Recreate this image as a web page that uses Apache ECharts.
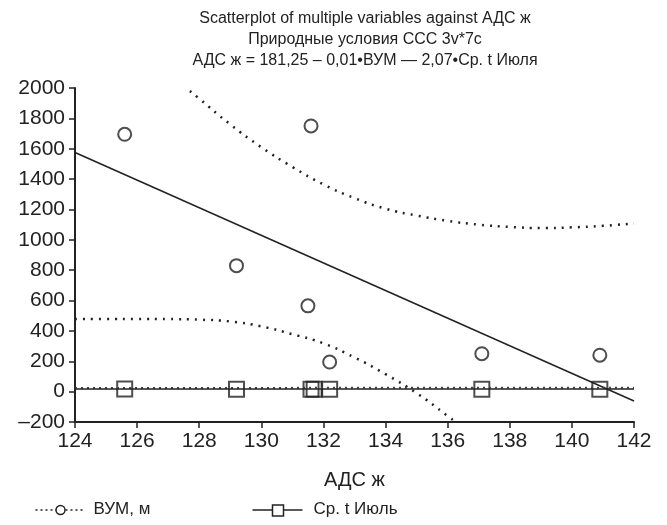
<!DOCTYPE html>
<html>
<head>
<meta charset="utf-8">
<script src="https://cdn.jsdelivr.net/npm/echarts@6/dist/echarts.min.js"></script>
<style>
  html, body { margin: 0; padding: 0; background: #fff; }
  #main { width: 667px; height: 525px; }
</style>
</head>
<body>
<div id="main"></div>
<script>
// АДС ж for each observation
var adsX = [125.6, 129.2, 131.5, 131.6, 132.2, 137.1, 140.9];
// ВУМ, м
var vumY = [1695, 830, 565, 1750, 195, 250, 240];
// Ср. t Июль (x positions of squares, values)
var tempX = [125.6, 129.2, 131.6, 131.7, 132.2, 137.1, 140.9];
var tempY = [17, 16, 16, 16, 15, 15, 16];

// regression line for ВУМ
var fitX = [124, 142];
var fitY = [1575, -62];
// fitted line for temperature (solid) and its band (dotted)
var tempFitY = [17, 17];
var tempBandY = [24, 26];

// confidence band for ВУМ
var upperX = [127.7, 128, 129, 130, 131, 132, 133, 134, 135, 136, 137, 138, 139, 140, 141, 142];
var upperY = [1980, 1930, 1760, 1610, 1480, 1365, 1275, 1205, 1160, 1125, 1100, 1085, 1078, 1082, 1092, 1108];
var lowerX = [124, 125, 126, 127, 128, 129, 130, 131, 132, 133, 134, 135, 136, 136.25];
var lowerY = [478, 479, 479, 478, 474, 462, 430, 378, 318, 225, 115, -10, -160, -200];

var xTicks = [124, 142, 2];
var yTicks = [-200, 2000, 200];

function pairs(xs, ys) {
  return xs.map(function (x, i) { return [x, ys[i]]; });
}

var ink = '#222';
var font = 'Liberation Sans, Arial, sans-serif';

var chart = echarts.init(document.getElementById('main'));
var option = {
  animation: false,
  title: {
    text: 'Scatterplot of multiple variables against АДС ж\nПриродные условия ССС 3v*7c\nАДС ж = 181,25 – 0,01•ВУМ — 2,07•Ср. t Июля',
    left: 360,
    top: 3,
    textAlign: 'center',
    textStyle: {
      fontFamily: font,
      fontSize: 16,
      fontWeight: 'normal',
      color: ink,
      lineHeight: 21
    }
  },
  grid: { left: 75, right: 33, top: 88, bottom: 103 },
  xAxis: {
    type: 'value',
    min: xTicks[0], max: xTicks[1], interval: xTicks[2],
    name: 'АДС ж',
    nameLocation: 'middle',
    nameGap: 48,
    nameTextStyle: { fontFamily: font, fontSize: 20, color: ink },
    axisLine: { onZero: false, lineStyle: { color: ink, width: 2 } },
    axisTick: { length: 6, lineStyle: { color: ink, width: 1.5 } },
    axisLabel: { fontFamily: font, fontSize: 21, color: ink, margin: 9 },
    splitLine: { show: false }
  },
  yAxis: {
    type: 'value',
    min: yTicks[0], max: yTicks[1], interval: yTicks[2],
    axisLine: { show: true, onZero: false, lineStyle: { color: ink, width: 2 } },
    axisTick: { show: true, length: 6, lineStyle: { color: ink, width: 1.5 } },
    axisLabel: {
      fontFamily: font, fontSize: 21, color: ink, margin: 10,
      formatter: function (v) { return v < 0 ? '–' + Math.abs(v) : String(v); }
    },
    splitLine: { show: false }
  },
  series: [
    {
      name: 'upper', type: 'line', smooth: true, showSymbol: false, clip: true,
      data: pairs(upperX, upperY),
      lineStyle: { color: ink, width: 2.5, type: [2, 6] }
    },
    {
      name: 'lower', type: 'line', smooth: true, showSymbol: false, clip: true,
      data: pairs(lowerX, lowerY),
      lineStyle: { color: ink, width: 2.5, type: [2, 6] }
    },
    {
      name: 'fit', type: 'line', showSymbol: false,
      data: pairs(fitX, fitY),
      lineStyle: { color: ink, width: 1.5 }
    },
    {
      name: 'tempBand', type: 'line', showSymbol: false,
      data: pairs(fitX, tempBandY),
      lineStyle: { color: '#444', width: 2, type: [2, 4] }
    },
    {
      name: 'tempFit', type: 'line', showSymbol: false,
      data: pairs(fitX, tempFitY),
      lineStyle: { color: ink, width: 1.5 }
    },
    {
      name: 'ВУМ, м', type: 'scatter',
      symbol: 'circle', symbolSize: 13,
      data: pairs(adsX, vumY),
      itemStyle: { color: '#fff', borderColor: ink, borderWidth: 2 }
    },
    {
      name: 'Ср. t Июль', type: 'scatter',
      symbol: 'rect', symbolSize: 15,
      data: pairs(tempX, tempY),
      itemStyle: { color: 'rgba(0,0,0,0)', borderColor: ink, borderWidth: 2 }
    }
  ],
  graphic: [
    {
      type: 'group', left: 33, top: 501,
      children: [
        { type: 'line', shape: { x1: 0, y1: 9, x2: 50, y2: 9 }, style: { stroke: ink, lineWidth: 1.5, lineDash: [2, 3] } },
        { type: 'circle', shape: { cx: 25, cy: 9, r: 4.5 }, style: { fill: '#fff', stroke: ink, lineWidth: 1.5 } },
        { type: 'text', x: 58, y: 0, style: { text: 'ВУМ, м', font: '17px ' + font, fill: ink } }
      ]
    },
    {
      type: 'group', left: 250, top: 501,
      children: [
        { type: 'line', shape: { x1: 0, y1: 9, x2: 50, y2: 9 }, style: { stroke: ink, lineWidth: 1.5 } },
        { type: 'rect', shape: { x: 20, y: 4, width: 11, height: 11 }, style: { fill: '#fff', stroke: ink, lineWidth: 1.5 } },
        { type: 'text', x: 61, y: 0, style: { text: 'Ср. t Июль', font: '17px ' + font, fill: ink } }
      ]
    }
  ]
};
chart.setOption(option);
</script>
</body>
</html>
